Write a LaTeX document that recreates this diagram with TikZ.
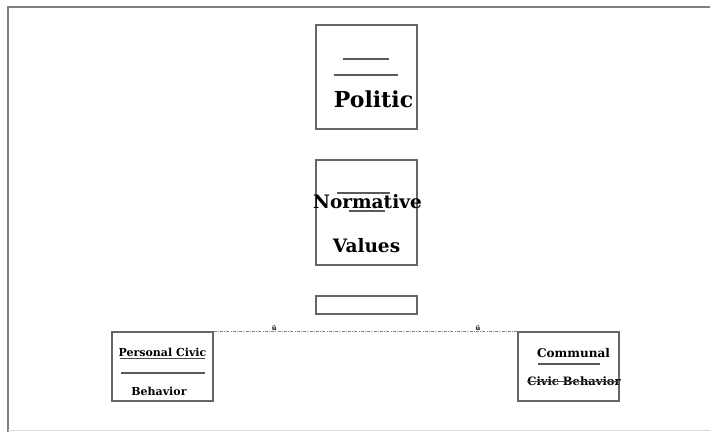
\documentclass[tikz,border=0pt]{standalone}
\usepackage{fontspec}
\setmainfont{DejaVu Serif}
\usetikzlibrary{positioning,calc}

\tikzset{
    framebox/.style={draw=black!60, line width=1.2pt, inner sep=0pt},
    bigtext/.style={font=\fontsize{22}{24}\selectfont\bfseries, inner sep=0pt, anchor=base},
    midtext/.style={font=\fontsize{18.5}{20}\selectfont\bfseries, inner sep=0pt, anchor=base},
    smalltext/.style={font=\fontsize{11}{13}\selectfont\bfseries, inner sep=0pt, anchor=base},
    barline/.style={draw=black!65, line width=1.2pt},
    linkline/.style={draw=black!50, line width=1pt, dash pattern=on 3pt off 1.2pt on 1pt off 1.2pt},
    tickmark/.style={font=\fontsize{6.5}{7}\selectfont\bfseries, inner sep=0pt},
}

\begin{document}
\begin{tikzpicture}[x=1pt,y=-1pt]
    \useasboundingbox (0,0) rectangle (710,432);

    % page frame
    \draw[black!50, line width=1.2pt] (8,432) -- (8,7) -- (712,7);
    \draw[black!15, line width=0.8pt] (8,430.5) -- (712,430.5);

    % top box
    \node[framebox, minimum width=101pt, minimum height=104pt] (politic) at (366.5,77) {};
    \draw[barline] (343,59) -- (389,59);
    \draw[barline] (334,75) -- (398,75);
    \node[bigtext] (politicTxt) at (373.5,107) {Politic};

    % middle box
    \node[framebox, minimum width=101pt, minimum height=105pt] (values) at (366.5,212.5) {};
    \node[midtext] (normTxt) at (367.5,208) {Normative};
    \draw[barline] (337,193) -- (390,193);
    \draw[barline] (349,211) -- (385,211);
    \node[midtext] (valuesTxt) at (366.5,252) {Values};

    % empty box
    \node[framebox, minimum width=101pt, minimum height=18pt] (blank) at (366.5,305) {};

    % left box
    \node[framebox, minimum width=101pt, minimum height=69pt] (personal) at (162.5,366.5) {};
    \node[smalltext] (personalTxt) at (162.5,356) {Personal Civic};
    \draw[black!70, line width=0.9pt] (120,358.5) -- (205,358.5);
    \draw[barline] (121,373) -- (205,373);
    \node[smalltext] (behavTxt) at (159,395) {Behavior};

    % right box
    \node[framebox, minimum width=101pt, minimum height=69pt] (communal) at (568.5,366.5) {};
    \node[smalltext, font=\fontsize{12}{13}\selectfont\bfseries] (communalTxt) at (573.5,357) {Communal};
    \draw[barline] (538,364) -- (600,364);
    \node[smalltext, font=\fontsize{11.5}{13}\selectfont\bfseries] (civicTxt) at (574,385) {Civic Behavior};
    \draw[black!70, line width=0.9pt] (527,381) -- (620,381);

    % link between the lower boxes
    \draw[linkline] (personal.north east) -- (communal.north west)
        coordinate[pos=0.2] (markA) coordinate[pos=0.87] (markB);
    \node[tickmark] (tickA) at ($(markA)+(0,-3.5)$) {ü};
    \node[tickmark] (tickB) at ($(markB)+(0,-3.5)$) {ü};
\end{tikzpicture}
\end{document}
